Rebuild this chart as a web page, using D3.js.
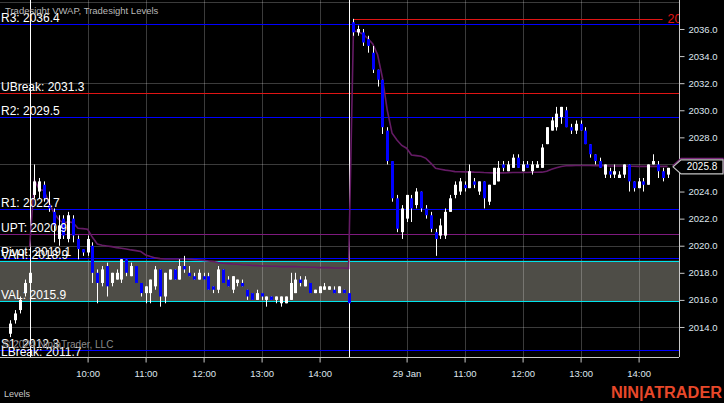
<!DOCTYPE html>
<html><head><meta charset="utf-8">
<script src="https://cdn.jsdelivr.net/npm/d3@7"></script>
<style>html,body{margin:0;padding:0;background:#000;overflow:hidden}</style>
</head><body><svg id="c" width="724" height="403"></svg>
<script>
// ---------- DATA ----------
const sessionDays = ["27 Jan", "28 Jan", "29 Jan"];
const sessionBarCounts = [5, 66, 66];
const sessionFirstClock = ["14:10", "09:05", "09:05"];

const openPrices = [
  2013.5,2014.5,2015.25,2016.5,2017.25,
  2023.75,2024.0,2024.5,2023.0,2022.5,2020.5,2022.0,2020.5,2022.0,2020.5,
  2019.75,2019.5,2020.0,2018.0,2017.25,2018.5,2017.25,2017.5,2017.5,2019.0,
  2017.75,2018.5,2017.25,2016.5,2016.5,2017.0,2018.25,2016.25,2017.5,2018.25,
  2017.5,2018.5,2018.0,2017.75,2017.5,2017.75,2017.75,2017.0,2016.75,2018.25,
  2017.5,2016.75,2017.25,2017.25,2016.75,2016.5,2016.0,2016.5,2016.0,2016.25,
  2016.0,2015.75,2015.75,2016.0,2016.5,2017.5,2017.0,2017.25,2016.5,2016.5,
  2016.75,2016.75,2016.75,2016.5,2016.75,2016.5,
  2036.5,2035.75,2035.75,2035.25,2034.25,2033.0,2032.25,2028.5,2026.25,2023.5,
  2021.0,2022.0,2023.5,2023.0,2024.0,2022.75,2022.25,2021.0,2020.75,2020.75,
  2022.5,2023.75,2024.0,2024.5,2024.25,2024.75,2024.0,2024.75,2023.25,2024.5,
  2024.75,2026.0,2025.5,2025.75,2026.5,2025.5,2026.0,2025.5,2025.75,2025.75,
  2027.5,2028.5,2028.75,2029.5,2030.0,2028.75,2028.5,2029.0,2028.5,2027.5,
  2026.75,2026.25,2025.25,2025.5,2025.25,2025.0,2025.25,2026.0,2024.75,2024.25,
  2024.75,2024.5,2026.0,2026.0,2025.5,2025.25
];
const highPrices = [
  2014.5,2015.25,2016.25,2017.5,2018.25,
  2026.0,2025.0,2024.75,2024.0,2022.75,2022.25,2022.25,2022.5,2022.25,2020.75,
  2019.75,2020.75,2020.25,2018.25,2018.5,2018.75,2018.0,2018.25,2019.0,2019.0,
  2018.75,2018.5,2017.25,2017.0,2017.5,2018.5,2018.25,2018.0,2018.25,2018.25,
  2019.0,2019.25,2018.5,2018.0,2018.25,2018.0,2018.0,2017.0,2018.5,2018.25,
  2017.75,2017.75,2017.5,2017.5,2016.75,2016.5,2016.75,2016.5,2016.25,2016.25,
  2016.25,2016.25,2016.25,2018.0,2018.0,2017.75,2017.75,2017.25,2016.75,2017.0,
  2017.25,2017.0,2017.0,2017.0,2016.75,2016.5,
  2036.75,2036.25,2036.0,2035.5,2034.75,2033.0,2032.25,2028.75,2026.25,2023.75,
  2023.0,2023.75,2023.75,2024.25,2024.0,2023.0,2022.5,2021.25,2022.0,2022.75,
  2023.75,2024.75,2025.0,2024.75,2026.0,2025.0,2024.75,2024.75,2024.5,2025.75,
  2026.25,2026.25,2026.25,2026.75,2026.75,2026.25,2026.25,2026.25,2026.25,2027.5,
  2028.75,2029.5,2030.25,2030.25,2030.25,2029.0,2029.25,2029.25,2028.75,2027.5,
  2026.75,2026.5,2026.0,2025.75,2026.0,2025.5,2026.0,2026.0,2024.75,2025.0,
  2025.0,2026.0,2026.75,2026.25,2025.75,2025.75
];
const lowPrices = [
  2013.25,2014.25,2015.0,2016.25,2017.25,
  2023.5,2023.5,2023.25,2022.5,2020.25,2020.0,2020.5,2020.25,2020.25,2019.0,
  2019.25,2019.25,2017.25,2015.75,2017.0,2016.25,2017.0,2017.5,2017.25,2017.75,
  2017.75,2017.25,2016.25,2015.75,2015.75,2016.75,2015.5,2015.75,2017.5,2017.5,
  2017.5,2018.0,2017.75,2017.5,2017.5,2017.5,2016.75,2016.5,2016.5,2017.25,
  2017.0,2016.5,2017.0,2017.0,2016.0,2016.0,2016.0,2016.0,2015.5,2016.0,
  2015.75,2015.5,2015.75,2016.0,2016.5,2017.0,2017.0,2016.5,2016.5,2016.5,
  2016.75,2016.75,2016.5,2016.5,2016.5,2015.75,
  2035.5,2035.5,2034.75,2034.25,2032.75,2031.75,2028.25,2026.0,2023.25,2021.0,
  2020.5,2021.75,2021.75,2022.75,2022.5,2022.0,2021.0,2019.25,2020.5,2020.5,
  2022.5,2023.5,2023.75,2024.0,2024.25,2024.25,2023.75,2022.75,2023.0,2024.5,
  2024.75,2025.5,2025.5,2025.75,2025.75,2025.5,2025.75,2025.25,2025.75,2025.75,
  2027.5,2028.5,2028.5,2029.0,2028.75,2028.25,2028.25,2028.5,2027.5,2026.5,
  2026.0,2025.75,2025.0,2025.0,2025.0,2025.0,2025.0,2024.0,2024.0,2024.25,
  2024.0,2024.5,2026.0,2025.0,2024.75,2025.0
];
const closePrices = [
  2014.25,2015.0,2016.0,2017.25,2018.0,
  2024.75,2024.75,2023.5,2022.75,2021.5,2021.5,2020.75,2022.25,2020.75,2019.75,
  2019.5,2020.5,2018.0,2017.25,2018.25,2017.0,2018.0,2018.0,2019.0,2018.0,
  2018.5,2017.25,2016.5,2017.0,2017.5,2018.25,2016.25,2018.0,2018.25,2017.5,
  2018.5,2018.25,2017.75,2017.5,2018.0,2017.5,2016.75,2016.75,2018.25,2017.25,
  2017.0,2017.75,2017.5,2017.0,2016.25,2016.0,2016.5,2016.25,2016.25,2016.0,
  2016.25,2016.25,2016.25,2017.25,2017.5,2017.25,2017.5,2016.5,2016.75,2017.0,
  2017.0,2017.0,2016.5,2017.0,2016.5,2015.75,
  2035.75,2036.0,2035.0,2034.75,2033.0,2032.25,2028.75,2026.25,2023.5,2021.25,
  2022.75,2023.75,2022.75,2024.0,2022.75,2022.25,2021.25,2020.5,2021.5,2022.5,
  2023.5,2024.5,2024.75,2024.25,2025.5,2024.5,2024.75,2023.5,2024.5,2025.75,
  2025.75,2025.75,2026.0,2026.5,2025.75,2026.0,2025.75,2026.0,2026.0,2027.25,
  2028.75,2029.25,2029.75,2030.25,2028.75,2028.5,2029.0,2028.5,2027.5,2026.75,
  2026.25,2025.75,2026.0,2025.25,2025.5,2025.25,2026.0,2024.75,2024.25,2024.75,
  2024.5,2026.0,2026.25,2025.5,2025.0,2025.75
];
const vwapValues = [
  null,null,null,null,2019.9,
  2024.85,2024.17,2024.07,2023.18,2022.44,2021.95,2021.65,2021.78,2021.70,2021.29,
  2021.26,2021.21,2020.62,2020.13,2020.03,2019.98,2019.93,2019.86,2019.81,2019.76,
  2019.69,2019.64,2019.57,2019.32,2019.20,2019.10,2019.05,2019.02,2019.02,2019.02,
  2019.02,2019.02,2019.00,2018.97,2018.95,2018.92,2018.87,2018.83,2018.75,2018.70,
  2018.68,2018.65,2018.63,2018.60,2018.58,2018.55,2018.53,2018.50,2018.50,2018.48,
  2018.48,2018.46,2018.46,2018.46,2018.46,2018.43,2018.43,2018.41,2018.41,2018.38,
  2018.38,2018.38,2018.36,2018.36,2018.36,2018.33,
  2035.87,2035.80,2035.60,2035.30,2034.90,2034.10,2032.40,2030.00,2028.30,2027.80,
  2027.40,2027.20,2026.70,2026.65,2026.60,2026.45,2026.10,2025.72,2025.65,2025.58,
  2025.54,2025.47,2025.46,2025.45,2025.45,2025.43,2025.42,2025.40,2025.39,2025.38,
  2025.38,2025.38,2025.39,2025.40,2025.40,2025.41,2025.41,2025.42,2025.42,2025.43,
  2025.50,2025.65,2025.75,2025.85,2025.90,2025.91,2025.92,2025.92,2025.92,2025.92,
  2025.91,2025.90,2025.90,2025.89,2025.89,2025.88,2025.88,2025.87,2025.87,2025.86,
  2025.86,2025.86,2025.86,2025.86,2025.86,2025.86
];

const levelNames  = ["R3", "UBreak", "R2", "R1", "UPT", "Pivot", "VAH", "VAL", "S1", "LBreak"];
const levelValues = [2036.4, 2031.3, 2029.5, 2022.7, 2020.9, 2019.1, 2018.9, 2015.9, 2012.3, 2011.7];

const priceTicks = [2014, 2016, 2018, 2020, 2022, 2024, 2026, 2028, 2030, 2032, 2034, 2036];
const priceGrid  = [2014, 2020, 2026, 2032, 2038];
const timeTickDays   = ["28 Jan","28 Jan","28 Jan","28 Jan","28 Jan","29 Jan","29 Jan","29 Jan","29 Jan","29 Jan"];
const timeTickClocks = ["10:00","11:00","12:00","13:00","14:00","10:00","11:00","12:00","13:00","14:00"];
const timeTickLabels = ["10:00","11:00","12:00","13:00","14:00","29 Jan","11:00","12:00","13:00","14:00"];

// ---------- BAR TIMES ----------
const barDay = [], barClock = [];
sessionDays.forEach((d, s) => {
  let [h, m] = sessionFirstClock[s].split(":").map(Number);
  for (let k = 0; k < sessionBarCounts[s]; k++) {
    barDay.push(d);
    barClock.push(String(h).padStart(2, "0") + ":" + String(m).padStart(2, "0"));
    m += 5; if (m >= 60) { m -= 60; h += 1; }
  }
});
const bars = openPrices.map((o, i) => ({
  i, o, h: highPrices[i], l: lowPrices[i], c: closePrices[i], day: barDay[i], clock: barClock[i]
}));
const N = bars.length;

// ---------- LAYOUT ----------
const W = 724, H = 403, PR = 679, PB = 357;
const FONT = "'Liberation Sans', Arial, sans-serif";
const x = d3.scaleLinear().domain([-2.125, 138.36]).range([0, PR]);
const y = d3.scaleLinear().domain([2011.784, 2038.141]).range([PB, 0]);
const crisp = v => Math.round(v) + 0.5;

const svg = d3.select("#c");
svg.append("rect").attr("width", W).attr("height", H).attr("fill", "#000");
svg.append("defs").append("clipPath").attr("id", "plot")
  .append("rect").attr("width", PR).attr("height", PB);
const g = svg.append("g").attr("clip-path", "url(#plot)");

const lvl = {}; levelNames.forEach((n, i) => lvl[n] = levelValues[i]);
const levelColor = n => n === "UPT" ? "#7e1a7e" :
  (n === "VAH" || n === "VAL") ? "#00e4ec" :
  /Break/.test(n) ? "#e01414" : "#0000ff";

// value area
g.append("rect").attr("x", 0).attr("width", PR)
  .attr("y", y(lvl.VAH)).attr("height", y(lvl.VAL) - y(lvl.VAH))
  .attr("fill", "#4e4d47");

// grid
const tickIdx = timeTickDays.map((d, j) => bars.findIndex(b => b.day === d && b.clock === timeTickClocks[j]));
g.selectAll(".hg").data(priceGrid).join("line")
  .attr("x1", 0).attr("x2", PR).attr("y1", d => crisp(y(d))).attr("y2", d => crisp(y(d)))
  .attr("stroke", "rgba(255,255,255,0.23)").attr("stroke-width", 1);
g.selectAll(".vg").data(tickIdx).join("line")
  .attr("y1", 0).attr("y2", PB).attr("x1", d => crisp(x(d))).attr("x2", d => crisp(x(d)))
  .attr("stroke", "rgba(255,255,255,0.23)").attr("stroke-width", 1);

// level lines
g.selectAll(".lv").data(levelNames).join("line")
  .attr("x1", 0).attr("x2", PR)
  .attr("y1", n => crisp(y(lvl[n]))).attr("y2", n => crisp(y(lvl[n])))
  .attr("stroke", levelColor).attr("stroke-width", 1);

// session breaks (last bar of each finished session)
const breakIdx = [];
for (let i = 1; i < N; i++) if (bars[i].day !== bars[i - 1].day) breakIdx.push(i - 1);
g.selectAll(".sb").data(breakIdx).join("line")
  .attr("x1", d => crisp(x(d))).attr("x2", d => crisp(x(d))).attr("y1", 0).attr("y2", PB)
  .attr("stroke", "#ffffff").attr("stroke-width", 1);

// VWAP
const vw = d3.line().defined(d => d != null).x((d, i) => x(i)).y(d => y(d));
g.append("path").attr("d", vw(vwapValues)).attr("fill", "none")
  .attr("stroke", "#651b65").attr("stroke-width", 1.6);

// day high ray (current session)
const lastDayStart = breakIdx[breakIdx.length - 1] + 1;
const dayHigh = d3.max(bars.slice(lastDayStart), b => b.h);
g.append("line").attr("x1", x(lastDayStart)).attr("x2", x(N - 1) - 5)
  .attr("y1", crisp(y(dayHigh))).attr("y2", crisp(y(dayHigh)))
  .attr("stroke", "#e01414").attr("stroke-width", 1);
g.append("text").attr("x", x(N - 1)).attr("y", y(dayHigh) + 4.5)
  .attr("fill", "#e01414").attr("font-family", FONT).attr("font-size", 12.5)
  .text(d3.format(".2f")(dayHigh));

// candles
const cg = g.append("g");
cg.selectAll(".wk").data(bars).join("line")
  .attr("x1", b => crisp(x(b.i))).attr("x2", b => crisp(x(b.i)))
  .attr("y1", b => y(b.h)).attr("y2", b => y(b.l))
  .attr("stroke", "#ffffff").attr("stroke-width", 1);
cg.selectAll(".bd").data(bars).join("rect")
  .attr("x", b => Math.round(x(b.i)) - 1).attr("width", 3)
  .attr("y", b => y(Math.max(b.o, b.c)))
  .attr("height", b => Math.max(1, Math.abs(y(b.o) - y(b.c))))
  .attr("fill", b => b.c >= b.o ? "#ffffff" : "#0000ff");

// level labels
g.selectAll(".ll").data(levelNames).join("text")
  .attr("x", 1).attr("y", n => y(lvl[n]) - 2)
  .attr("fill", "#ffffff").attr("font-family", FONT).attr("font-size", 12)
  .text(n => n + ": " + d3.format(".1f")(lvl[n]));

// copyright and title
g.append("text").attr("x", 3).attr("y", 348).attr("fill", "#8a8a8a")
  .attr("font-family", FONT).attr("font-size", 10).text("© 2024 NinjaTrader, LLC");
g.append("text").attr("x", 5).attr("y", 13.5).attr("fill", "#b8b8b8")
  .attr("font-family", FONT).attr("font-size", 9.5).text("Tradesight VWAP, Tradesight Levels");

// axes
const axisColor = "#c8c8c8", labelColor = "#dfe6ee";
const ay = svg.append("g").attr("transform", `translate(${PR + 0.5},0)`)
  .call(d3.axisRight(y).tickValues(priceTicks).tickFormat(d3.format(".1f"))
    .tickSize(5).tickSizeOuter(0).tickPadding(4));
const ax = svg.append("g").attr("transform", `translate(0,${PB + 0.5})`)
  .call(d3.axisBottom(x).tickValues(tickIdx).tickFormat((d, j) => timeTickLabels[j])
    .tickSize(5).tickSizeOuter(0).tickPadding(8));
[ay, ax].forEach(a => {
  a.select(".domain").attr("stroke", axisColor);
  a.selectAll(".tick line").attr("stroke", axisColor);
  a.selectAll(".tick text").attr("fill", labelColor).attr("font-family", FONT).attr("font-size", 9.5);
});
ay.select(".domain").attr("d", `M0,0V${PB}`);
ax.select(".domain").attr("d", `M0,0H${PR}`);

// last price marker
const last = bars[N - 1];
const my = y(last.c) - 1;
const marker = (cy, stroke) => svg.append("path")
  .attr("d", `M${PR - 6},${cy} L${PR + 2},${cy - 7} H${W - 1} V${cy + 7} H${PR + 2} Z`)
  .attr("fill", "#000").attr("stroke", stroke).attr("stroke-width", 1.2);
marker(my - 1.5, "#7e2a7e");
marker(my, "#c4c4c4");
svg.append("text").attr("x", (PR + 2 + W - 1) / 2).attr("y", my + 3.6)
  .attr("text-anchor", "middle").attr("fill", "#ffffff")
  .attr("font-family", FONT).attr("font-size", 10).text(d3.format(".1f")(last.c));

// footer
svg.append("text").attr("x", 4).attr("y", 397).attr("fill", "#c8c8c8")
  .attr("font-family", FONT).attr("font-size", 9).text("Levels");
svg.append("text").attr("x", 611).attr("y", 398.3).attr("fill", "#e8482a")
  .attr("font-family", FONT).attr("font-size", 16).attr("font-weight", "bold")
  .attr("textLength", 111).attr("lengthAdjust", "spacingAndGlyphs").text("NIN|ATRADER");
</script></body></html>
